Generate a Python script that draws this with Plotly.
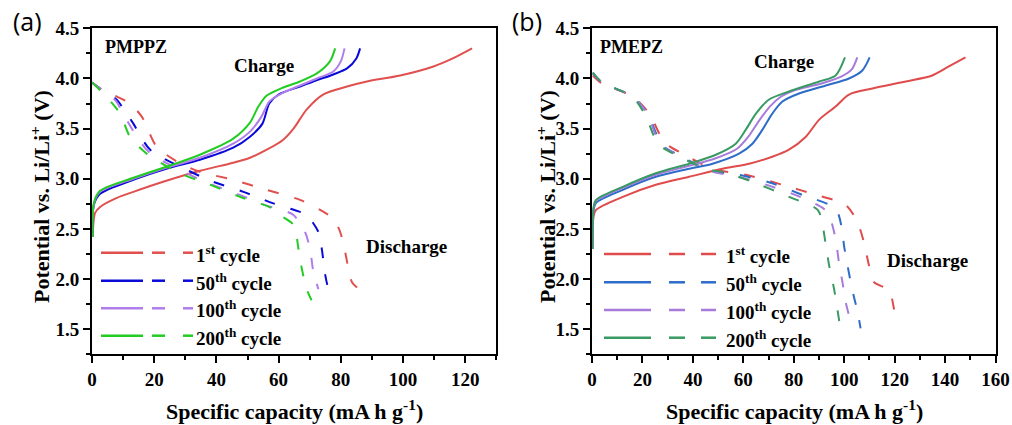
import plotly.graph_objects as go

W, H = 1012, 425
SERIF = "Liberation Serif"

# ---------------- data: panel (a) PMPPZ ----------------
a_labels = ["1<sup>st</sup> cycle", "50<sup>th</sup> cycle", "100<sup>th</sup> cycle", "200<sup>th</sup> cycle"]
a_colors = ["#E0504F", "#0A0AD8", "#B07EEA", "#22CC22"]

a_ch_red_x = [0.2, 1.0, 2.6, 8, 13.3, 23.9, 34.7, 45.4, 50.8, 56.2, 61.5, 64.8, 69, 74.3, 82, 88.4, 99.1, 109.8, 116, 122.2]
a_ch_red_y = [2.42, 2.66, 2.72, 2.81, 2.87, 2.98, 3.08, 3.16, 3.21, 3.29, 3.39, 3.50, 3.69, 3.84, 3.92, 3.97, 4.03, 4.12, 4.20, 4.30]
a_ch_blue_x = [0.2, 0.6, 2.6, 13.3, 23.9, 34.7, 45.4, 50.8, 54.8, 57, 60, 66.9, 72, 77.6, 82, 85, 86.2]
a_ch_blue_y = [2.42, 2.74, 2.85, 2.99, 3.10, 3.19, 3.31, 3.42, 3.55, 3.75, 3.84, 3.92, 3.98, 4.04, 4.10, 4.20, 4.30]
a_ch_purple_x = [0.2, 0.6, 2.6, 13.3, 23.9, 34.7, 45.4, 50.8, 54.5, 57, 61.5, 66.9, 72.3, 77.6, 80, 81.2]
a_ch_purple_y = [2.42, 2.75, 2.87, 3.00, 3.11, 3.21, 3.35, 3.47, 3.62, 3.77, 3.86, 3.93, 4.00, 4.07, 4.17, 4.30]
a_ch_green_x = [0.2, 0.6, 2.6, 13.3, 23.9, 34.7, 45.4, 50.8, 53.5, 56.2, 61.5, 66.9, 72.3, 76.5, 78.2]
a_ch_green_y = [2.42, 2.76, 2.88, 3.01, 3.12, 3.24, 3.40, 3.56, 3.72, 3.83, 3.91, 3.97, 4.05, 4.17, 4.30]

a_dc_red_x = [0, 3.6, 8, 12.2, 16, 17.6, 20.8, 28.3, 34.7, 45.4, 56.1, 66.9, 73.4, 77.6, 79.8, 81.4, 82.5, 83.6, 86.2]
a_dc_red_y = [3.96, 3.88, 3.82, 3.75, 3.62, 3.52, 3.32, 3.155, 3.07, 2.99, 2.89, 2.79, 2.69, 2.60, 2.47, 2.27, 2.10, 1.97, 1.89]
a_dc_blue_x = [0, 3, 7.9, 10.5, 13.3, 18.7, 30.4, 39, 48.7, 58.3, 66.9, 69, 72.8, 73.9, 75, 76.6, 77.6]
a_dc_blue_y = [3.96, 3.89, 3.79, 3.68, 3.55, 3.29, 3.09, 2.97, 2.87, 2.755, 2.67, 2.64, 2.47, 2.30, 2.04, 1.84, 1.80]
a_dc_purple_x = [0, 3, 7.6, 10, 12.8, 18.2, 29.5, 38, 47.5, 56.5, 62, 64.8, 68.5, 70.1, 71.2, 72.8]
a_dc_purple_y = [3.96, 3.89, 3.78, 3.65, 3.50, 3.27, 3.07, 2.95, 2.84, 2.73, 2.68, 2.64, 2.47, 2.30, 2.07, 1.90]
a_dc_green_x = [0, 3, 7.9, 10, 12.2, 17.6, 28.3, 36.9, 47.6, 58.3, 59.9, 64.8, 66.4, 67.5, 69, 70.6]
a_dc_green_y = [3.96, 3.87, 3.70, 3.58, 3.42, 3.25, 3.055, 2.955, 2.82, 2.70, 2.65, 2.54, 2.30, 2.10, 1.90, 1.79]

# ---------------- data: panel (b) PMEPZ ----------------
b_colors = ["#E04B4B", "#2D6CC8", "#A77BDB", "#3A9A64"]

b_ch_red_x = [0.2, 0.6, 1.6, 12.2, 25.3, 38.5, 51.8, 62.3, 71.5, 78.1, 84.8, 90.1, 96.6, 101.9, 111.2, 124.4, 134.9, 141.5, 148.1]
b_ch_red_y = [2.30, 2.62, 2.69, 2.82, 2.94, 3.02, 3.10, 3.15, 3.22, 3.29, 3.42, 3.59, 3.72, 3.84, 3.90, 3.97, 4.03, 4.12, 4.21]
b_ch_blue_x = [0.2, 0.6, 1.6, 12.2, 25.3, 38.5, 47.8, 58.3, 63.6, 67.6, 71.5, 75.5, 82.1, 92.7, 101.9, 107.2, 110.1]
b_ch_blue_y = [2.30, 2.68, 2.76, 2.89, 3.02, 3.10, 3.15, 3.25, 3.35, 3.49, 3.65, 3.77, 3.85, 3.93, 4.00, 4.08, 4.21]
b_ch_purple_x = [0.2, 0.6, 1.6, 12.2, 25.3, 38.5, 48.5, 57.5, 62, 66, 70.5, 75, 80, 91, 99, 103, 105.2]
b_ch_purple_y = [2.30, 2.70, 2.78, 2.91, 3.04, 3.13, 3.20, 3.30, 3.42, 3.57, 3.72, 3.82, 3.88, 3.95, 4.02, 4.09, 4.21]
b_ch_green_x = [0.2, 0.6, 1.6, 12.2, 25.3, 38.5, 49.1, 57, 61, 65, 70.2, 78.1, 90.1, 96.6, 100.3]
b_ch_green_y = [2.30, 2.71, 2.79, 2.92, 3.055, 3.15, 3.24, 3.35, 3.49, 3.65, 3.79, 3.87, 3.97, 4.03, 4.21]

b_dc_red_x = [0.3, 4, 16.1, 22.7, 26.7, 29.3, 35.9, 47.8, 61, 75.5, 88.7, 100.6, 105.2, 107.8, 109.8, 111.8, 117.8, 119.8, 121.1]
b_dc_red_y = [4.03, 3.95, 3.82, 3.65, 3.45, 3.35, 3.25, 3.10, 3.04, 2.94, 2.84, 2.74, 2.57, 2.37, 2.14, 1.97, 1.89, 1.70, 1.60]
b_dc_blue_x = [0.3, 4, 16.1, 22, 25.5, 28, 35, 47, 58.3, 71.5, 83.4, 96.6, 99.3, 99.9, 101.3, 102.6, 103.9, 105.2, 106.5]
b_dc_blue_y = [4.05, 3.96, 3.82, 3.65, 3.45, 3.33, 3.23, 3.08, 3.04, 2.955, 2.84, 2.70, 2.47, 2.34, 2.14, 1.97, 1.82, 1.69, 1.51]
b_dc_purple_x = [0.3, 4, 16, 21.7, 25, 27.5, 34.5, 46.5, 58, 70.5, 82.5, 92, 94, 96.6, 97.9, 99.3, 100.6, 101.9]
b_dc_purple_y = [4.05, 3.96, 3.82, 3.66, 3.45, 3.33, 3.23, 3.08, 3.02, 2.93, 2.82, 2.70, 2.64, 2.40, 2.17, 1.97, 1.77, 1.64]
b_dc_green_x = [0.3, 4, 16, 21.4, 24.5, 27, 34, 46, 51.8, 63.6, 78.1, 89.5, 91.4, 92.7, 94, 96, 97.3, 98.6]
b_dc_green_y = [4.06, 3.96, 3.82, 3.62, 3.43, 3.33, 3.23, 3.09, 3.07, 2.97, 2.82, 2.69, 2.54, 2.34, 2.14, 1.90, 1.70, 1.49]

# tick labels
a_xticks = [0, 20, 40, 60, 80, 100, 120]
b_xticks = [0, 20, 40, 60, 80, 100, 120, 140, 160]
y_ticks = [1.5, 2.0, 2.5, 3.0, 3.5, 4.0, 4.5]

a_charge = [(a_ch_red_x, a_ch_red_y), (a_ch_blue_x, a_ch_blue_y), (a_ch_purple_x, a_ch_purple_y), (a_ch_green_x, a_ch_green_y)]
a_dis = [(a_dc_red_x, a_dc_red_y), (a_dc_blue_x, a_dc_blue_y), (a_dc_purple_x, a_dc_purple_y), (a_dc_green_x, a_dc_green_y)]
b_charge = [(b_ch_red_x, b_ch_red_y), (b_ch_blue_x, b_ch_blue_y), (b_ch_purple_x, b_ch_purple_y), (b_ch_green_x, b_ch_green_y)]
b_dis = [(b_dc_red_x, b_dc_red_y), (b_dc_blue_x, b_dc_blue_y), (b_dc_purple_x, b_dc_purple_y), (b_dc_green_x, b_dc_green_y)]

DASH = "11px,16px"
fig = go.Figure()

def add_panel(charge, dis, colors, xa, ya):
    for (cx, cy), (dx, dy), col in zip(charge, dis, colors):
        fig.add_trace(go.Scatter(x=cx, y=cy, mode="lines", xaxis=xa, yaxis=ya,
                                 line=dict(color=col, width=2, shape="spline", smoothing=0.8),
                                 showlegend=False, hoverinfo="skip"))
        fig.add_trace(go.Scatter(x=dx, y=dy, mode="lines", xaxis=xa, yaxis=ya,
                                 line=dict(color=col, width=2, dash=DASH, shape="spline", smoothing=0.8),
                                 showlegend=False, hoverinfo="skip"))

add_panel(a_charge, a_dis, a_colors, "x", "y")
add_panel(b_charge, b_dis, b_colors, "x2", "y2")

tickfont = dict(family=SERIF, size=19, color="black")
common_axis = dict(showline=True, linewidth=2, linecolor="black", mirror=True, automargin=False,
                   ticks="outside", ticklen=7, tickwidth=2, tickcolor="black",
                   showgrid=False, zeroline=False, tickfont=tickfont)

def bold(vals, fmt):
    return ["<b>" + fmt.format(v) + "</b>" for v in vals]

def xaxis(domain, rng, anchor, ticks):
    return dict(domain=domain, range=rng, anchor=anchor,
                tickmode="array", tickvals=ticks, ticktext=bold(ticks, "{:d}"),
                minor=dict(dtick=10, tick0=0, ticklen=4, tickwidth=2, ticks="outside", tickcolor="black"),
                **common_axis)

def yaxis(anchor):
    return dict(domain=[1 - 354.4 / H, 1 - 28.3 / H], range=[1.25, 4.5], anchor=anchor,
                tickmode="array", tickvals=y_ticks, ticktext=bold(y_ticks, "{:.1f}"),
                minor=dict(dtick=0.25, tick0=1.5, ticklen=4, tickwidth=2, ticks="outside", tickcolor="black"),
                **common_axis)

fig.update_layout(
    width=W, height=H, margin=dict(l=0, r=0, t=0, b=0, pad=0, autoexpand=False),
    paper_bgcolor="white", plot_bgcolor="white", showlegend=False,
    xaxis=xaxis([92 / W, 496.3 / W], [0, 130], "y", a_xticks),
    yaxis=yaxis("x"),
    xaxis2=xaxis([592 / W, 995.5 / W], [0, 160], "y2", b_xticks),
    yaxis2=yaxis("x2"),
)

def ann(text, px, py, size, family=SERIF, xanchor="center", yanchor="middle", angle=0, bold=True):
    fig.add_annotation(text=("<b>" + text + "</b>") if bold else text, x=px / W, y=1 - py / H,
                       xref="paper", yref="paper",
                       showarrow=False, xanchor=xanchor, yanchor=yanchor, textangle=angle,
                       font=dict(family=family, size=size, color="black"))

# panel labels
ann("(a)", 27, 21, 25, family="Open Sans", bold=False)
ann("(b)", 527, 21, 25, family="Open Sans", bold=False)
# axis titles
for cx in (294, 794):
    ann("Specific capacity (mA h g<sup>-1</sup>)", cx, 410, 22)
ann("Potential vs. Li/Li<sup>+</sup> (V)", 40, 197, 22, angle=-90)
ann("Potential vs. Li/Li<sup>+</sup> (V)", 546, 197, 22, angle=-90)
# in-plot labels
ann("PMPPZ", 103, 47, 18, xanchor="left")
ann("Charge", 264, 66, 19)
ann("Discharge", 406, 246, 19)
ann("PMEPZ", 598, 47, 18, xanchor="left")
ann("Charge", 784, 61, 19)
ann("Discharge", 927, 260, 19)

# legends (solid + dashed line samples with text)
def legend(rows_y, seg_solid, dashes, text_x, colors):
    for ry, col, lab in zip(rows_y, colors, a_labels):
        yy = 1 - ry / H
        fig.add_shape(type="line", xref="paper", yref="paper", x0=seg_solid[0] / W, x1=seg_solid[1] / W,
                      y0=yy, y1=yy, line=dict(color=col, width=2.5))
        for d0, d1 in dashes:
            fig.add_shape(type="line", xref="paper", yref="paper", x0=d0 / W, x1=d1 / W,
                          y0=yy, y1=yy, line=dict(color=col, width=2.5))
        ann(lab, text_x, ry + 1, 19, xanchor="left")

legend([252.7, 280.7, 308.3, 335.7], (101, 143), [(152, 165), (183, 193)], 194, a_colors)
legend([254, 282.3, 310, 337.7], (604, 651), [(669, 685), (701, 716)], 724, b_colors)

fig.write_html("out.html")
